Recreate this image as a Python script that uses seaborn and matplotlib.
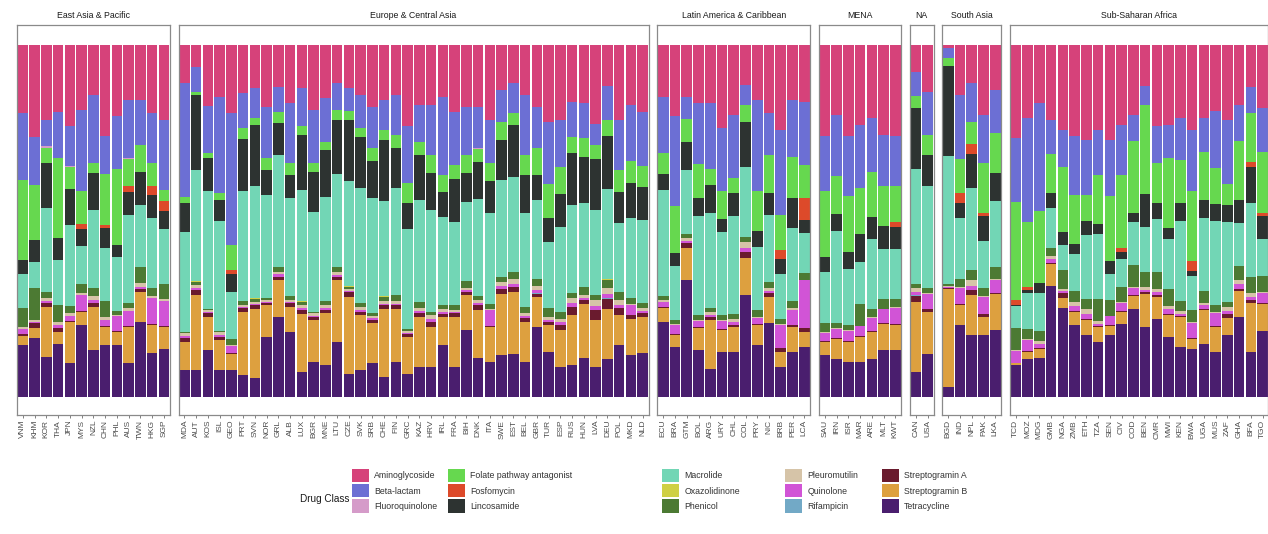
import matplotlib
matplotlib.use("Agg")
import matplotlib.pyplot as plt
from matplotlib.patches import Patch
import pandas as pd
import seaborn as sns

# ---- categories -------------------------------------------------------------
region_names = ["East Asia & Pacific", "Europe & Central Asia", "Latin America & Caribbean",
                "MENA", "NA", "South Asia", "Sub-Saharan Africa"]

eap = ["VNM", "KHM", "KOR", "THA", "JPN", "MYS", "NZL", "CHN", "PHL", "AUS", "TWN", "HKG", "SGP"]
eca = ["MDA", "AUT", "KOS", "ISL", "GEO", "PRT", "SVN", "NOR", "GRL", "ALB", "LUX", "BGR", "MNE",
       "LTU", "CZE", "SVK", "SRB", "CHE", "FIN", "GRC", "KAZ", "HRV", "IRL", "FRA", "BIH", "DNK",
       "ITA", "SWE", "EST", "BEL", "GBR", "TUR", "ESP", "RUS", "HUN", "LVA", "DEU", "POL", "MKD", "NLD"]
lac = ["ECU", "BRA", "GTM", "BOL", "ARG", "URY", "CHL", "COL", "PRY", "NIC", "BRB", "PER", "LCA"]
mena = ["SAU", "IRN", "ISR", "MAR", "ARE", "MLT", "KWT"]
nam = ["CAN", "USA"]
sas = ["BGD", "IND", "NPL", "PAK", "LKA"]
ssa = ["TCD", "MOZ", "MDG", "GMB", "NGA", "ZMB", "ETH", "TZA", "SEN", "CIV", "COD", "BEN", "CMR",
       "MWI", "KEN", "BWA", "UGA", "MUS", "ZAF", "GHA", "BFA", "TGO"]
region_countries = [eap, eca, lac, mena, nam, sas, ssa]

drug_classes = ["Aminoglycoside", "Beta-lactam", "Fluoroquinolone", "Folate pathway antagonist",
                "Fosfomycin", "Lincosamide", "Macrolide", "Oxazolidinone", "Phenicol",
                "Pleuromutilin", "Quinolone", "Rifampicin", "Streptogramin A", "Streptogramin B",
                "Tetracycline"]
class_colors = ["#D6427A", "#6C6FD4", "#D59BC9", "#66D84F", "#DD4A2A", "#2D3331", "#72D6B5",
                "#CFD044", "#4C7A33", "#D6C4A8", "#D154D6", "#72A9C6", "#6A1B2E", "#DDA03F",
                "#4A1E6E"]

# ---- relative abundance (%) per country, in country order ------------------
aminoglycoside = [
    19.5, 26, 21.3, 18.9, 23.2, 18.5, 14.2, 26, 20.4, 15.6, 15.6, 19.4, 21.3,
    10.9, 6.2, 17.5, 14.7, 19.4, 13.7, 12.3, 17.5, 11.8, 16.6, 12.3, 18.5, 15.2, 10.9, 12.3, 14.2,
    17.5, 15.6, 14.2, 23.2, 17, 17, 14.7, 19, 17.5, 17.5, 21.3, 12.8, 10.9, 14.2, 17.5, 21.8, 21.3,
    16.1, 16.6, 22.3, 11.8, 21.3, 17, 18.9,
    14.7, 20.4, 14.7, 16.6, 16.6, 23.7, 19.9, 11.4, 15.6, 19.4, 24.2, 15.6, 16.1,
    26, 19.9, 26, 22.7, 20.8, 25.6, 26,
    7.6, 13.3,
    0.9, 14.2, 10.9, 19.9, 12.8,
    26.4, 20.8, 16.6, 21.3, 24.1, 26, 27, 24.1, 27, 22.7, 19.9, 11.8, 23.2, 22.7, 20.8, 24.1, 20.8,
    18.9, 21.3, 17, 11.8, 18.1]
beta_lactam = [
    19, 13.7, 7.6, 13.3, 11.4, 23.2, 19.4, 10.9, 15.2, 16.6, 12.8, 14.2, 19.9,
    32.2, 7.1, 13.3, 27.5, 37.8, 9.9, 8.5, 14.7, 7.1, 17, 10.9, 15.2, 12.3, 7.6, 6.6, 9.5, 11.8,
    8.5, 11.4, 16.1, 10.4, 14.2, 22.3, 15.2, 13.7, 11.8, 12.3, 9, 8.5, 17, 11.8, 17.5, 13.3, 9.9,
    9.9, 6.2, 9.5, 14.2, 16.1, 15.6,
    16.1, 25.6, 6.2, 17.5, 18.5, 18, 18, 5.7, 26, 11.8, 24.1, 16.1, 18,
    15.6, 17.5, 17, 18, 15.6, 14.7, 14.2,
    7.1, 12.3,
    2.8, 18.5, 10.9, 13.7, 12.3,
    18, 29.8, 30.8, 9.9, 10.4, 16.6, 15.6, 12.8, 16.1, 14.2, 7.6, 5.2, 10.4, 9.5, 11.8, 17.5, 9.5,
    16.1, 18, 10.4, 7.6, 12.3]
fluoroquinolone = [
    0, 0, 0.3, 0, 0.3, 0, 0, 0, 0, 0.3, 0, 0, 0,
    0, 0, 0, 0, 0, 0, 0, 0, 0, 0, 0, 0, 0, 0, 0, 0, 0, 0, 0, 0, 0, 0, 0, 0, 0, 0.3, 0, 0, 0, 0,
    0, 0, 0, 0, 0, 0, 0, 0, 0, 0,
    0, 0, 0, 0, 0, 0, 0, 0, 0, 0, 0, 0, 0,
    0, 0, 0, 0, 0, 0, 0,
    0, 0,
    0, 0, 0, 0, 0,
    0, 0, 0, 0, 0, 0, 0, 0, 0, 0, 0, 0, 0, 0, 0, 0, 0, 0, 0, 0, 0, 0]
folate_pathway = [
    23, 15.6, 4.3, 22.7, 6.2, 9.5, 2.8, 14.5, 21.8, 7.6, 7.6, 6.6, 3.3,
    1.9, 1, 1.4, 1.9, 7.1, 3.3, 1.9, 3.3, 3.3, 3.3, 2.4, 2.4, 2.4, 2.8, 2.4, 2.4, 3.8, 2.8, 3.8,
    5.7, 3.8, 5.2, 4.7, 3.8, 5.2, 3.8, 5.2, 5.2, 3.3, 5.7, 7.6, 9.9, 7.6, 4.7, 5.2, 3.8, 4.7, 6.2,
    6.2, 5.7,
    5.7, 13.3, 6.6, 9.5, 4.7, 8, 4.3, 4.7, 11.4, 10.9, 9.9, 11.8, 9.5,
    18.9, 10.9, 16.1, 13.3, 12.8, 11.4, 10.4,
    3.3, 5.7,
    2.4, 9.5, 6.2, 14.2, 11.4,
    27.9, 18.5, 20.4, 10.9, 18.5, 14.2, 7.6, 14.2, 18.5, 20.8, 20.4, 25.6, 11.4, 19.9, 12.3, 19.9,
    13.7, 10.4, 6.2, 16.6, 13.7, 17.5]
fosfomycin = [
    0, 0, 0, 0, 0, 1.4, 0, 0.7, 0, 1.9, 0, 2.4, 2.8,
    0, 0, 0, 0, 1, 0, 0, 0, 0, 0, 0, 0, 0, 0, 0, 0, 0, 0, 0, 0, 0, 0, 0, 0, 0, 0, 0, 0, 0, 0,
    0, 0, 0, 0, 0, 0, 0, 0, 0, 0,
    0, 0, 0, 0, 0, 0, 0, 0, 0, 0, 2.8, 0, 6.2,
    0, 0, 0, 0, 0, 0, 1.4,
    0, 0,
    0, 2.8, 2.8, 1, 0,
    1.4, 1, 0, 0, 0, 0, 0, 0, 0, 1.4, 0, 0, 0, 0, 0, 2.8, 0, 0, 0, 0, 1.4, 1]
lincosamide = [
    4, 6.2, 12.8, 6.2, 10.4, 4.7, 10.4, 5.7, 3.3, 6.6, 9.5, 6.6, 5.2,
    8, 21.3, 9.5, 6.2, 5.2, 14.7, 17.5, 7.1, 9, 6.6, 15.6, 11.4, 13.3, 15.2, 17.5, 14.7, 10.4,
    17.5, 11.4, 7.6, 12.8, 10.4, 7.1, 12.3, 8, 10.4, 9, 11.4, 14.7, 10.9, 7.1, 6.6, 9.5, 14.7,
    13.3, 14.7, 15.2, 9, 9.9, 9.5,
    4.7, 3.8, 8, 5.2, 8, 3.8, 6.6, 12.8, 4.7, 6.2, 4.3, 8.5, 3.8,
    4.3, 4.7, 4.7, 8, 6.2, 6.6, 6.2,
    17.5, 9,
    25.6, 4.3, 9.9, 7.1, 8,
    0.5, 0.8, 2.8, 4.3, 3.8, 2.8, 3.8, 2.8, 3.8, 1.9, 2.8, 9.5, 4.7, 3.3, 5.2, 1.4, 5.2, 4.7, 4.7,
    6.6, 10.4, 6.6]
macrolide = [
    9.5, 7.6, 24, 12.8, 23.2, 10.9, 22.3, 15.2, 15.6, 25, 17.5, 19.9, 15.6,
    28.4, 31.7, 33.6, 31.3, 13.3, 31.3, 32, 29.4, 31.7, 27.9, 31.7, 28.4, 29.8, 26.5, 29.8, 32.7,
    32.7, 27, 30.3, 28.4, 28.9, 28.9, 25.1, 23.7, 22.7, 27.5, 26, 27.5, 27, 26.5, 22.7, 18.9, 24.1,
    25.1, 23.7, 24.1, 25.6, 19.4, 22.7, 23.7,
    30.2, 15.6, 18, 28.4, 27, 23.7, 27.9, 19.9, 18, 18.9, 12.8, 20.8, 11.4,
    14.7, 26.5, 16.1, 11.8, 19.9, 14.2, 14.2,
    32.7, 28.9,
    36.5, 17.5, 23.2, 13.3, 18.9,
    6.2, 10.4, 10.9, 11.4, 7.1, 10.4, 18.5, 18.5, 7.6, 8, 12.3, 12.8, 15.2, 14.2, 22.7, 9.9, 20.8,
    24.1, 22.7, 12.3, 20.8, 10.4]
oxazolidinone = [
    0, 0, 0, 0, 0, 0, 0, 0, 0, 0, 0, 0, 0,
    0, 0.2, 0, 0, 0, 0.2, 0.2, 0, 0, 0, 0.2, 0, 0, 0, 0.2, 0, 0, 0.2, 0, 0, 0, 0, 0, 0, 0, 0, 0, 0,
    0, 0, 0, 0, 0, 0, 0, 0, 0.2, 0, 0, 0,
    0, 0, 0, 0, 0, 0, 0, 0, 0, 0, 0, 0, 0,
    0, 0, 0, 0, 0, 0, 0,
    0.2, 0,
    0, 0, 0, 0, 0,
    0, 0, 0, 0, 0, 0, 0, 0, 0, 0, 0, 0, 0, 0, 0, 0, 0, 0, 0, 0, 0, 0]
phenicol = [
    5.5, 9, 1.9, 4.7, 1.9, 2.8, 2.4, 4.7, 1, 1.4, 4.7, 2.4, 4.3,
    0.5, 1, 0.3, 0.3, 1.9, 1, 0.7, 0.5, 1.4, 1, 1, 0.5, 1, 1.4, 0.5, 1, 1, 1.4, 1.9, 0.5, 1.9, 1,
    1, 1.4, 1.9, 1.4, 1.4, 1.4, 1.9, 1.9, 1.9, 2.4, 1.9, 1.4, 2.4, 1.4, 2.4, 2.4, 1.9, 1.4,
    1, 1, 1.4, 1.4, 1, 1.4, 1.4, 1.4, 1.9, 1.9, 1.4, 1.9, 1.9,
    2.4, 1.4, 1.4, 6.2, 2.4, 2.8, 2.4,
    1, 1.4,
    0.5, 2.4, 2.8, 2.4, 3.3,
    6.2, 2.8, 2.8, 2.4, 5.2, 3.3, 2.8, 6.2, 4.3, 4.3, 6.2, 4.3, 4.7, 4.7, 2.8, 3.3, 3.3, 1.9, 1.4,
    3.8, 4.7, 4.7]
pleuromutilin = [
    0.5, 0.5, 0.7, 0.9, 1, 0.3, 1, 0.8, 0.3, 1, 0.9, 0.5, 0.6,
    0.8, 0.8, 0.6, 0.8, 0.2, 0.6, 0.6, 0.5, 0.8, 0.6, 0.8, 0.6, 0.8, 0.8, 0.6, 0.8, 0.6, 0.6, 0.6,
    0.6, 0.8, 1.1, 0.8, 0.6, 0.6, 0.8, 0.3, 1.1, 1.4, 0.8, 1.1, 0.8, 1.1, 1.4, 0.8, 1.7, 1.7, 1.4,
    0.3, 0.8,
    0.5, 0.2, 0.8, 0.2, 0.8, 0.2, 1.1, 1.7, 0.2, 0.8, 0.2, 0.5, 0.2,
    0.2, 0.2, 0.2, 0.2, 0.2, 0.2, 0.2,
    1.1, 0.3,
    0.3, 0.2, 1.7, 0.2, 0.2,
    0.2, 0.2, 0.8, 0.8, 0.8, 1, 1.2, 0.8, 0.2, 0.2, 0.2, 0.8, 0.8, 1, 0.8, 0.2, 0.8, 0.2, 1.1,
    1.2, 1.1, 0.2]
quinolone = [
    1.5, 0.5, 0.7, 1, 1.4, 4.7, 0.9, 1.6, 4.3, 4.2, 0.8, 7.5, 7,
    0.6, 0.6, 0.4, 0.6, 1.9, 0.4, 0.4, 0.4, 0.6, 0.4, 0.6, 0.4, 0.6, 0.6, 0.4, 0.6, 0.4, 0.4, 0.4,
    0.4, 0.6, 0.8, 0.6, 0.4, 0.4, 0.6, 4.7, 0.8, 1, 0.6, 0.8, 0.6, 0.8, 1, 0.6, 1.1, 1.1, 1, 2.8,
    0.6,
    1.4, 2.8, 0.6, 1.9, 0.6, 2.4, 0.8, 1.1, 1.9, 0.6, 6.6, 4.3, 13.7,
    2.4, 2.4, 2.8, 2.8, 3.8, 3.8, 4.7,
    0.8, 4.3,
    0.2, 4.7, 1.1, 4.7, 3.8,
    3.3, 3.3, 1.1, 1.1, 0.6, 1.4, 1.6, 0.6, 2.4, 2.4, 1.9, 0.6, 1.1, 1.4, 0.6, 4.3, 1.1, 3.8, 0.8,
    1.6, 0.8, 2.8]
rifampicin = [
    0, 0, 0, 0, 0, 0, 0, 0, 0, 0, 0, 0, 0,
    0, 0, 0, 0, 0, 0, 0, 0, 0, 0, 0, 0, 0, 0, 0, 0, 0, 0, 0, 0, 0, 0, 0, 0, 0, 0, 0, 0, 0, 0,
    0.3, 0, 0, 0, 0, 0, 0.3, 0, 0, 0,
    0, 0, 0, 0, 0, 0, 0, 0, 0, 0, 0, 0, 0,
    0, 0, 0, 0, 0, 0, 0,
    0.3, 0,
    0, 0, 0, 0, 0,
    0, 0, 0, 0, 0, 0, 0, 0, 0, 0, 0, 0, 0, 0, 0, 0, 0, 0, 0, 0, 0, 0]
streptogramin_a = [
    0.5, 1.4, 1, 1, 0.3, 0.3, 1, 0.3, 0.3, 0.3, 0.7, 0.3, 0.3,
    1, 1.4, 1, 1, 0.3, 1, 1, 0.5, 1, 1, 1, 1, 1, 1, 1.4, 1, 1, 1, 1, 0.9, 1, 1.4, 1, 1, 1, 1.4,
    0.3, 1.4, 1.4, 1, 1, 1, 1.4, 2.4, 1, 2.8, 2.8, 1.9, 1, 1,
    0.5, 0.3, 1.4, 0.3, 1, 0.3, 0.5, 1.9, 0.3, 1, 1, 0.5, 1,
    0.3, 0.3, 0.3, 0.3, 0.3, 0.3, 0.3,
    1.9, 1,
    0.3, 0.3, 1.4, 1, 0.3,
    0.2, 0.2, 0.3, 0.3, 1.4, 0.3, 0.3, 0.3, 0.3, 0.3, 0.3, 0.5, 0.5, 0.3, 0.3, 0.3, 0.3, 0.3, 1.4,
    0.3, 1, 0.3]
streptogramin_b = [
    2.5, 2.8, 14.2, 3.3, 11.8, 3.8, 12.3, 5.2, 3.8, 10.4, 8.5, 8, 6.2,
    8, 21.3, 9.5, 8.5, 4.7, 18, 19.9, 9, 10.4, 7.1, 16.6, 11.8, 14.7, 17.5, 21.8, 15.6, 11.4,
    19.4, 15.2, 10.4, 14.2, 11.4, 8, 14.2, 9.9, 13.7, 9.9, 17.5, 17.5, 11.4, 8.5, 7.6, 10.4,
    14.2, 15.6, 13.3, 14.2, 8.5, 10.4, 10.4,
    3.8, 3.3, 9, 6.2, 13.7, 6.2, 7.1, 10.4, 5.7, 7.6, 4.3, 7.1, 4.3,
    3.8, 5.7, 5.7, 7.1, 7.6, 7.6, 7.1,
    19.9, 11.8,
    28, 5.7, 11.4, 5.2, 10.4,
    0.5, 1.9, 2.8, 6.2, 2.8, 3.8, 4.3, 4.3, 2.8, 3.3, 3.8, 9.5, 6.2, 6.2, 8.5, 2.8, 9.5, 7.1, 4.7,
    7.6, 13.7, 7.6]
tetracycline = [
    15, 16.7, 11.5, 15.2, 9.6, 20.5, 13.4, 14.8, 14.8, 9.6, 21.4, 12.4, 13.8,
    7.7, 7.7, 13.4, 7.7, 7.7, 6.3, 5.3, 17.1, 22.8, 18.6, 7.2, 10, 9.1, 15.7, 6.7, 7.7, 9.6, 5.8,
    10, 6.7, 8.6, 8.6, 14.7, 8.6, 19, 11, 10, 11.9, 12.3, 10, 19.9, 12.8, 8.6, 9.1, 11, 8.6, 11,
    14.8, 11.9, 12.4,
    21.4, 14.3, 33.2, 13.4, 8.1, 12.9, 12.9, 29, 14.8, 20.9, 8.6, 12.9, 14.3,
    11.9, 11, 10, 10, 11, 13.4, 13.4,
    7.2, 12.4,
    2.9, 20.5, 17.6, 17.6, 19,
    9.1, 11, 11, 31.8, 25.2, 20.5, 17.6, 15.7, 17.6, 20.8, 25.2, 20, 22.3, 17.1, 14.3, 13.8, 15.2,
    12.9, 17.6, 22.7, 12.9, 19]

class_values = [aminoglycoside, beta_lactam, fluoroquinolone, folate_pathway, fosfomycin,
                lincosamide, macrolide, oxazolidinone, phenicol, pleuromutilin, quinolone,
                rifampicin, streptogramin_a, streptogramin_b, tetracycline]

# ---- long table -------------------------------------------------------------
records = []
k = 0
for region, ctry in zip(region_names, region_countries):
    for pos, code in enumerate(ctry):
        for cls, vals in zip(drug_classes, class_values):
            records.append({"region": region, "pos": pos, "country": code,
                            "drug": cls, "share": vals[k]})
        k += 1
df = pd.DataFrame(records)

# ---- figure -----------------------------------------------------------------
sns.set_theme(style="white")
plt.rcParams["font.family"] = ["Liberation Sans", "DejaVu Sans"]

W, H = 1268, 534
fig = plt.figure(figsize=(W / 100, H / 100), dpi=100)
fig.patch.set_facecolor("white")

# facet widths are proportional to the number of countries in each region
left_px, bar_px, gap_px = 17.0, 11.75, 8.83
top_px, bottom_px = 25.0, 415.0
palette = dict(zip(drug_classes, class_colors))

x0 = left_px
for region, ctry in zip(region_names, region_countries):
    n = len(ctry)
    ax = fig.add_axes([x0 / W, 1 - bottom_px / H, n * bar_px / W, (bottom_px - top_px) / H])
    sub = df[df["region"] == region]
    sns.histplot(data=sub, x="pos", weights="share", hue="drug", hue_order=drug_classes,
                 palette=palette, multiple="fill", discrete=True, shrink=0.9,
                 linewidth=0, alpha=1, legend=False, ax=ax)
    ax.set_xlim(-0.5, n - 0.5)
    ax.set_ylim(-0.051, 1.057)
    ax.set_yticks([])
    ax.set_xticks(range(n))
    ax.set_xticklabels(ctry, rotation=90, fontsize=6, color="#4d4d4d")
    ax.tick_params(axis="x", length=2, width=0.5, color="#4d4d4d", pad=1.5, bottom=True)
    ax.set_xlabel("")
    ax.set_ylabel("")
    ax.set_facecolor("white")
    for sp in ax.spines.values():
        sp.set_visible(True)
        sp.set_color("#8a8a8a")
        sp.set_linewidth(0.9)
    ax.set_title(region, fontsize=6.3, color="#1a1a1a", pad=5)
    x0 += n * bar_px + gap_px

# ---- legend: five columns of three keys, title on the left ----------------
handles = [Patch(facecolor=c, edgecolor="none") for c in class_colors]
column_key_px = [352, 448, 662, 785, 882]
for c, kx in enumerate(column_key_px):
    fig.legend(handles[3 * c:3 * c + 3], drug_classes[3 * c:3 * c + 3],
               loc="upper left", bbox_to_anchor=(kx / W, 1 - 469 / H),
               frameon=False, fontsize=6.3, labelcolor="#333333",
               handlelength=1.95, handleheight=1.95, handletextpad=0.6,
               labelspacing=0.22, borderpad=0, borderaxespad=0)
fig.text(300 / W, 1 - 499 / H, "Drug Class", fontsize=7.2, color="#1a1a1a",
         ha="left", va="center")

fig.savefig("out.png", dpi=100, facecolor="white")
